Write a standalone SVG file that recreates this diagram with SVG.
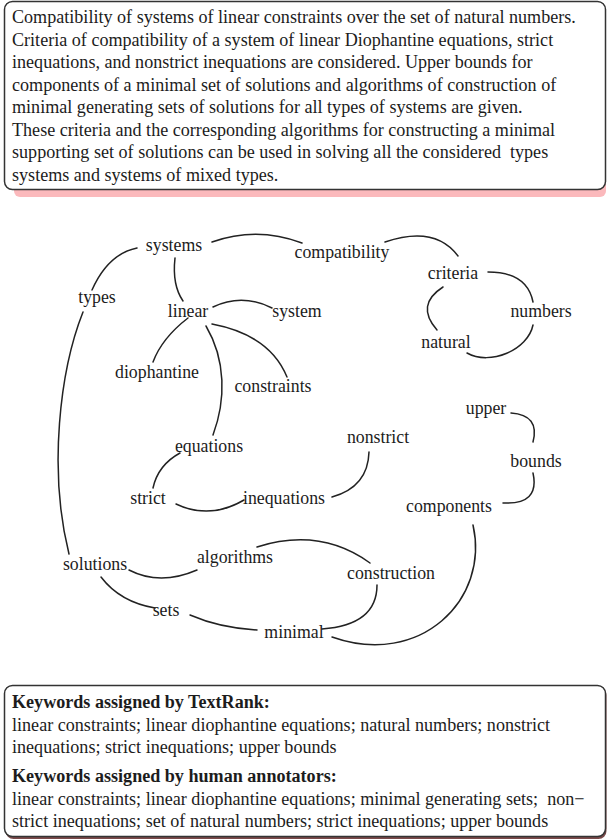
<svg xmlns="http://www.w3.org/2000/svg" width="608" height="840" viewBox="0 0 608 840">
<style>
.p{font-family:"Liberation Serif","Times New Roman",serif;font-size:18.1px;fill:#1c1c1c}
.b{font-weight:bold}
.n{font-family:"Liberation Serif","Times New Roman",serif;font-size:17.8px;fill:#1c1c1c;text-anchor:middle;dominant-baseline:central}
.e{fill:none;stroke:#222;stroke-width:1.5;stroke-linecap:round}
.box{fill:#fff;stroke:#333;stroke-width:1.5}
</style>
<rect width="608" height="840" fill="#fff"/>
<g id="abstract">
<rect x="14" y="180" width="592" height="17" rx="6" fill="#fbb9bc"/>
<rect class="box" x="4.5" y="1.5" width="601" height="188" rx="8"/>
<text class="p" x="12" y="23">Compatibility of systems of linear constraints over the set of natural numbers.</text>
<text class="p" x="12" y="45.5">Criteria of compatibility of a system of linear Diophantine equations, strict</text>
<text class="p" x="12" y="68">inequations, and nonstrict inequations are considered. Upper bounds for</text>
<text class="p" x="12" y="90.5">components of a minimal set of solutions and algorithms of construction of</text>
<text class="p" x="12" y="113">minimal generating sets of solutions for all types of systems are given.</text>
<text class="p" x="12" y="135.5">These criteria and the corresponding algorithms for constructing a minimal</text>
<text class="p" x="12" y="158" xml:space="preserve">supporting set of solutions can be used in solving all the considered  types</text>
<text class="p" x="12" y="180.5">systems and systems of mixed types.</text>
</g>
<g id="connectors">
<path class="e" d="M92,290 Q108,254 137,248"/>
<path class="e" d="M212,242 Q257,226 302,243"/>
<path class="e" d="M385,242 Q435,225 458,256"/>
<path class="e" d="M488,272 Q527,272 533,302"/>
<path class="e" d="M443,287 Q415,305 437,330"/>
<path class="e" d="M533,325 C528,350 490,366 467,353"/>
<path class="e" d="M175,258 Q172,285 183,301"/>
<path class="e" d="M213,307 Q242,293 272,308"/>
<path class="e" d="M188,318 Q162,338 153,362"/>
<path class="e" d="M212,324 Q270,335 287,377"/>
<path class="e" d="M206,326 C226,360 226,400 213,435"/>
<path class="e" d="M83,312 C60,370 48,470 69,554"/>
<path class="e" d="M180,453 Q158,465 153,488"/>
<path class="e" d="M176,504 Q210,520 244,500"/>
<path class="e" d="M332,497 Q368,487 369,452"/>
<path class="e" d="M511,413 Q540,415 533,442"/>
<path class="e" d="M533,473 Q540,505 503,503"/>
<path class="e" d="M473,525 C490,600 420,668 332,637"/>
<path class="e" d="M377,585 Q377,625 322,629"/>
<path class="e" d="M257,547 Q320,527 370,563"/>
<path class="e" d="M129,570 Q160,586 197,570"/>
<path class="e" d="M101,577 Q120,602 155,608"/>
<path class="e" d="M190,615 Q220,628 257,630"/>
</g>
<g id="n-systems"><text class="n" x="174" y="245">systems</text></g>
<g id="n-compatibility"><text class="n" x="342" y="252">compatibility</text></g>
<g id="n-criteria"><text class="n" x="453" y="273">criteria</text></g>
<g id="n-numbers"><text class="n" x="541" y="311">numbers</text></g>
<g id="n-natural"><text class="n" x="446" y="342">natural</text></g>
<g id="n-types"><text class="n" x="97" y="297">types</text></g>
<g id="n-linear"><text class="n" x="188" y="311">linear</text></g>
<g id="n-system"><text class="n" x="297" y="311">system</text></g>
<g id="n-diophantine"><text class="n" x="157" y="372">diophantine</text></g>
<g id="n-constraints"><text class="n" x="273" y="386">constraints</text></g>
<g id="n-equations"><text class="n" x="209" y="446">equations</text></g>
<g id="n-strict"><text class="n" x="148" y="498">strict</text></g>
<g id="n-inequations"><text class="n" x="284" y="498">inequations</text></g>
<g id="n-nonstrict"><text class="n" x="378" y="437">nonstrict</text></g>
<g id="n-upper"><text class="n" x="486" y="408">upper</text></g>
<g id="n-bounds"><text class="n" x="536" y="461">bounds</text></g>
<g id="n-components"><text class="n" x="449" y="506">components</text></g>
<g id="n-solutions"><text class="n" x="95" y="564">solutions</text></g>
<g id="n-algorithms"><text class="n" x="235" y="557">algorithms</text></g>
<g id="n-construction"><text class="n" x="391" y="573">construction</text></g>
<g id="n-sets"><text class="n" x="166" y="610">sets</text></g>
<g id="n-minimal"><text class="n" x="294" y="632">minimal</text></g>
<g id="keywords">
<rect x="5.5" y="687" width="601" height="152" rx="8" fill="#7a4a4a"/>
<rect class="box" x="4.5" y="685.5" width="601" height="151" rx="8"/>
<text class="p b" x="12" y="708">Keywords assigned by TextRank:</text>
<text class="p" x="12" y="730.5">linear constraints; linear diophantine equations; natural numbers; nonstrict</text>
<text class="p" x="12" y="753">inequations; strict inequations; upper bounds</text>
<text class="p b" x="12" y="782">Keywords assigned by human annotators:</text>
<text class="p" x="12" y="804.5" xml:space="preserve">linear constraints; linear diophantine equations; minimal generating sets;  non−</text>
<text class="p" x="12" y="827">strict inequations; set of natural numbers; strict inequations; upper bounds</text>
</g>
</svg>
